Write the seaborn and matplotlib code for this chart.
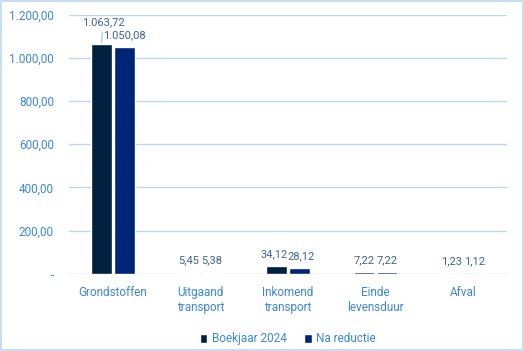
import matplotlib.pyplot as plt
import matplotlib.ticker as mticker
import numpy as np
import pandas as pd
import seaborn as sns

categories = ["Grondstoffen", "Uitgaand\ntransport", "Inkomend\ntransport", "Einde\nlevensduur", "Afval"]
series = ["Boekjaar 2024", "Na reductie"]
boekjaar = [1063.72, 5.45, 34.12, 7.22, 1.23]
reductie = [1050.08, 5.38, 28.12, 7.22, 1.12]
yticks = [0, 200, 400, 600, 800, 1000, 1200]

colors = ["#00203F", "#002577"]
tick_color = "#3C86D8"
label_color = "#3F6296"
grid_color = "#BDD7F2"


def nl(v):
    s = f"{v:,.2f}"
    return s.replace(",", "X").replace(".", ",").replace("X", ".")


df = pd.DataFrame({
    "categorie": categories * 2,
    "reeks": [series[0]] * 5 + [series[1]] * 5,
    "waarde": boekjaar + reductie,
})

sns.set_style("white")
plt.rcParams["font.family"] = ["Roboto", "DejaVu Sans"]

fig = plt.figure(figsize=(5.24, 3.51), dpi=100)
ax = fig.add_axes([0.132, 0.22, 0.835, 0.738])

sns.barplot(data=df, x="categorie", y="waarde", hue="reeks", palette=colors,
            width=0.52, gap=0.1, ax=ax, saturation=1)

ax.set_ylim(0, 1200)
ax.set_yticks(yticks)
ax.yaxis.set_major_formatter(mticker.FuncFormatter(lambda v, p: "-" if v == 0 else nl(v)))
ax.grid(axis="y", color=grid_color, linewidth=1)
ax.set_axisbelow(True)
for s in ax.spines.values():
    s.set_visible(False)
ax.tick_params(axis="both", length=0, labelsize=8.5, colors=tick_color)
ax.tick_params(axis="y", pad=11)
ax.tick_params(axis="x", pad=9)
ax.set_xlabel("")
ax.set_ylabel("")

# data labels
for ci, cont in enumerate(ax.containers):
    for bi, bar in enumerate(cont):
        x = bar.get_x() + bar.get_width() / 2
        h = bar.get_height()
        val = nl(h)
        if ci == 0 and bi == 0:
            ax.annotate(val, xy=(x, h), xytext=(1, 12), textcoords="offset points",
                        ha="center", va="bottom", fontsize=8, color=label_color,
                        arrowprops=dict(arrowstyle="-", color="#9DC3E6", lw=0.8,
                                        shrinkA=1, shrinkB=1))
        else:
            dx = 0
            if bi == 2:
                dx = -1.5 if ci == 0 else 1.5
            ax.annotate(val, xy=(x, max(h, 0)), xytext=(dx, 5),
                        textcoords="offset points", ha="center", va="bottom",
                        fontsize=8, color=label_color)

leg = ax.legend(loc="upper center", bbox_to_anchor=(0.5, -0.185), ncol=2, frameon=False,
                fontsize=8.5, handlelength=0.6, handleheight=0.8, handletextpad=0.4,
                columnspacing=1.5)
for t in leg.get_texts():
    t.set_color(tick_color)

fig.patches.append(plt.Rectangle((0.002, 0.003), 0.996, 0.994, transform=fig.transFigure,
                                 fill=False, edgecolor=grid_color, linewidth=1.2))

fig.savefig("out.png", dpi=100)
